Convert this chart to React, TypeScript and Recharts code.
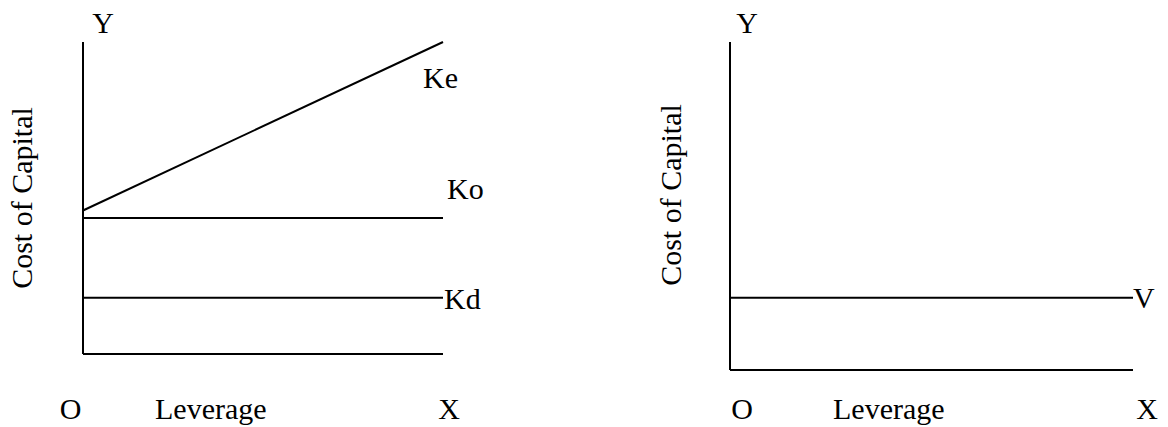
import { Label, Line, LineChart, XAxis, YAxis } from "recharts";

const leverage = [0, 10];
const ke = [46, 100];
const ko = [43.6, 43.6];
const kd = [18, 18];
const value = [22, 22];

const FONT = "Liberation Serif";
const SIZE = 30;
const INK = "#000";

const leftData = leverage.map((x, i) => ({ x, ke: ke[i], ko: ko[i], kd: kd[i] }));
const rightData = leverage.map((x, i) => ({ x, v: value[i] }));

// name written just past the last point of a line
function endLabel(text: string, dx: number, dy: number, last: number) {
  return (p: any) =>
    p.index === last ? (
      <text x={p.x + dx} y={p.y + dy} fontFamily={FONT} fontSize={SIZE} fill={INK}>
        {text}
      </text>
    ) : null;
}

function xLabels(oDx: number, levDx: number, xDx: number, baseDy: number) {
  return ({ viewBox }: any) => {
    const { x, y, width } = viewBox;
    const by = y + baseDy;
    return (
      <g fontFamily={FONT} fontSize={SIZE} fill={INK}>
        <text x={x + oDx} y={by} textAnchor="middle">O</text>
        <text x={x + levDx} y={by}>Leverage</text>
        <text x={x + width + xDx} y={by} textAnchor="middle">X</text>
      </g>
    );
  };
}

function yLabels(titleX: number, titleY: number, yDx: number) {
  return ({ viewBox }: any) => {
    const { x, y, width } = viewBox;
    return (
      <g fontFamily={FONT} fontSize={SIZE} fill={INK}>
        <text
          x={titleX}
          y={titleY}
          textAnchor="middle"
          transform={`rotate(-90 ${titleX} ${titleY})`}
        >
          Cost of Capital
        </text>
        <text x={x + width + yDx} y={y - 9} textAnchor="middle">Y</text>
      </g>
    );
  };
}

const axisLine = { stroke: INK, strokeWidth: 2 };

export default function App() {
  return (
    <div style={{ position: "absolute", left: 0, top: 0, width: 1168, height: 427, background: "#fff" }}>
      <div style={{ position: "absolute", left: 0, top: 0 }}>
        <LineChart width={500} height={427} data={leftData} margin={{ top: 42, right: 57, bottom: 0, left: 0 }}>
          <XAxis
            dataKey="x"
            type="number"
            domain={[0, 10]}
            height={73}
            tick={false}
            tickLine={false}
            axisLine={axisLine}
          >
            <Label content={xLabels(-12.5, 72, 6, 65)} />
          </XAxis>
          <YAxis type="number" domain={[0, 100]} width={83} tick={false} tickLine={false} axisLine={axisLine}>
            <Label content={yLabels(32, 198, 20)} />
          </YAxis>
          <Line dataKey="ke" stroke={INK} strokeWidth={2} dot={false} isAnimationActive={false}
            label={endLabel("Ke", -20, 46, 1)} />
          <Line dataKey="ko" stroke={INK} strokeWidth={2} dot={false} isAnimationActive={false}
            label={endLabel("Ko", 4, -19, 1)} />
          <Line dataKey="kd" stroke={INK} strokeWidth={2} dot={false} isAnimationActive={false}
            label={endLabel("Kd", 1, 11, 1)} />
        </LineChart>
      </div>
      <div style={{ position: "absolute", left: 600, top: 0 }}>
        <LineChart width={568} height={427} data={rightData} margin={{ top: 42, right: 35, bottom: 0, left: 0 }}>
          <XAxis
            dataKey="x"
            type="number"
            domain={[0, 10]}
            height={57}
            tick={false}
            tickLine={false}
            axisLine={axisLine}
          >
            <Label content={xLabels(12, 103, 14, 49)} />
          </XAxis>
          <YAxis type="number" domain={[0, 100]} width={130} tick={false} tickLine={false} axisLine={axisLine}>
            <Label content={yLabels(81, 195, 17)} />
          </YAxis>
          <Line dataKey="v" stroke={INK} strokeWidth={2} dot={false} isAnimationActive={false}
            label={endLabel("V", 0, 10, 1)} />
        </LineChart>
      </div>
    </div>
  );
}
